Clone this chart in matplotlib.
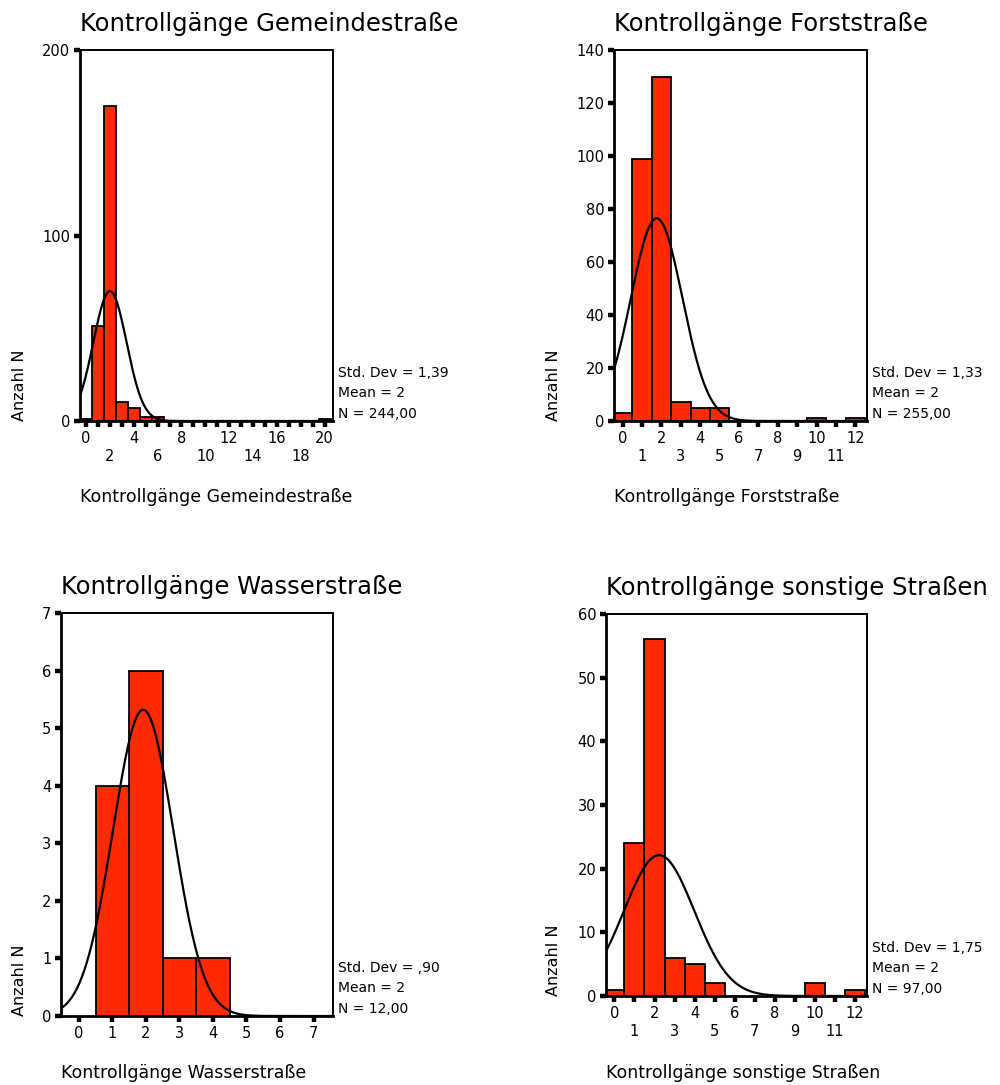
import numpy as np
import matplotlib
matplotlib.use('Agg')
import matplotlib.pyplot as plt

plt.rcParams['font.family'] = ['DejaVu Sans']

# Häufigkeiten je Anzahl Kontrollgänge (Klassenbreite 1)
gemeinde_x = [0, 1, 2, 3, 4, 5, 6, 20]
gemeinde_n = [1, 51, 170, 10, 7, 2, 2, 1]

forst_x = [0, 1, 2, 3, 4, 5, 10, 12]
forst_n = [3, 99, 130, 7, 5, 5, 1, 1]

wasser_x = [1, 2, 3, 4]
wasser_n = [4, 6, 1, 1]

sonst_x = [0, 1, 2, 3, 4, 5, 10, 12]
sonst_n = [1, 24, 56, 6, 5, 2, 2, 1]

# Kennwerte (Normalverteilungskurve)
mean_vals = [2.01, 1.75, 1.92, 2.23]
sd_vals = [1.39, 1.33, 0.90, 1.75]
n_vals = [244, 255, 12, 97]
sd_text = ['1,39', '1,33', ',90', '1,75']

titles = ['Kontrollgänge Gemeindestraße', 'Kontrollgänge Forststraße',
          'Kontrollgänge Wasserstraße', 'Kontrollgänge sonstige Straßen']

y_ticks = [[0, 100, 200], [0, 20, 40, 60, 80, 100, 120, 140],
           [0, 1, 2, 3, 4, 5, 6, 7], [0, 10, 20, 30, 40, 50, 60]]
x_max = [20, 12, 7, 12]

xs = [gemeinde_x, forst_x, wasser_x, sonst_x]
ns = [gemeinde_n, forst_n, wasser_n, sonst_n]

# Achsenpositionen in Pixeln: links, oben, rechts, unten
box = [(80, 50, 333, 421),
       (614, 50, 867, 421),
       (61, 613, 333, 1016),
       (606, 614, 867, 996)]
xlims = [(-0.5, 20.7), (-0.45, 12.6), (-0.53, 7.58), (-0.42, 12.6)]
ylab_dx = [60, 61, 41, 53]     # Abstand "Anzahl N" zur Achse
xlab_dy = [76, 76, 57, 77]     # Abstand Achsentitel unter der Achse

W, H = 1000, 1085
fig = plt.figure(figsize=(W / 100, H / 100), dpi=100)

for i in range(4):
    l, t, r, b = box[i]
    aw, ah = r - l, b - t
    ax = fig.add_axes([l / W, (H - b) / H, aw / W, ah / H])
    ax.bar(xs[i], ns[i], width=1.0, color='#FF2A00', edgecolor='black',
           linewidth=1.3, zorder=2)

    # Normalverteilung, skaliert auf N * Klassenbreite
    xx = np.linspace(xlims[i][0], xlims[i][1], 600)
    yy = n_vals[i] / (sd_vals[i] * np.sqrt(2 * np.pi)) * \
        np.exp(-0.5 * ((xx - mean_vals[i]) / sd_vals[i]) ** 2)
    ax.plot(xx, yy, color='black', lw=1.6, zorder=3)

    ax.set_xlim(*xlims[i])
    ax.set_ylim(0, y_ticks[i][-1])
    ax.set_yticks(y_ticks[i])
    ax.set_yticklabels([str(v) for v in y_ticks[i]], fontsize=10.5)

    ticks = list(range(0, x_max[i] + 1))
    ax.set_xticks(ticks)
    if i == 2:
        labels = [str(t) for t in ticks]
    elif i == 0:
        # nur gerade Werte, abwechselnd oben/unten
        labels = ['' if t % 2 else (str(t) if t % 4 == 0 else '\n' + str(t)) for t in ticks]
    else:
        labels = [str(t) if t % 2 == 0 else '\n' + str(t) for t in ticks]
    ax.set_xticklabels(labels, fontsize=10.5, linespacing=1.25)

    ax.tick_params(axis='both', direction='out', length=4, width=3.2, color='black', pad=3)
    for s in ax.spines.values():
        s.set_linewidth(1.4)
    ax.spines['bottom'].set_linewidth(2.0)
    ax.spines['left'].set_linewidth(2.0)

    ax.text(0.0, 1.0 + 26 / ah, titles[i], transform=ax.transAxes,
            ha='left', va='center', fontsize=17.5)
    ax.text(-ylab_dx[i] / aw, 0.0, 'Anzahl N', transform=ax.transAxes,
            rotation=90, ha='center', va='bottom', fontsize=11.5)
    ax.text(0.0, -xlab_dy[i] / ah, titles[i], transform=ax.transAxes,
            ha='left', va='center', fontsize=12.5)

    stats = 'Std. Dev = %s\nMean = %.0f\nN = %d,00' % (sd_text[i], mean_vals[i], n_vals[i])
    ax.text(1.0 + 5 / aw, 0.0, stats, transform=ax.transAxes,
            ha='left', va='bottom', fontsize=10, linespacing=1.6)

fig.savefig('out.png', dpi=100)
